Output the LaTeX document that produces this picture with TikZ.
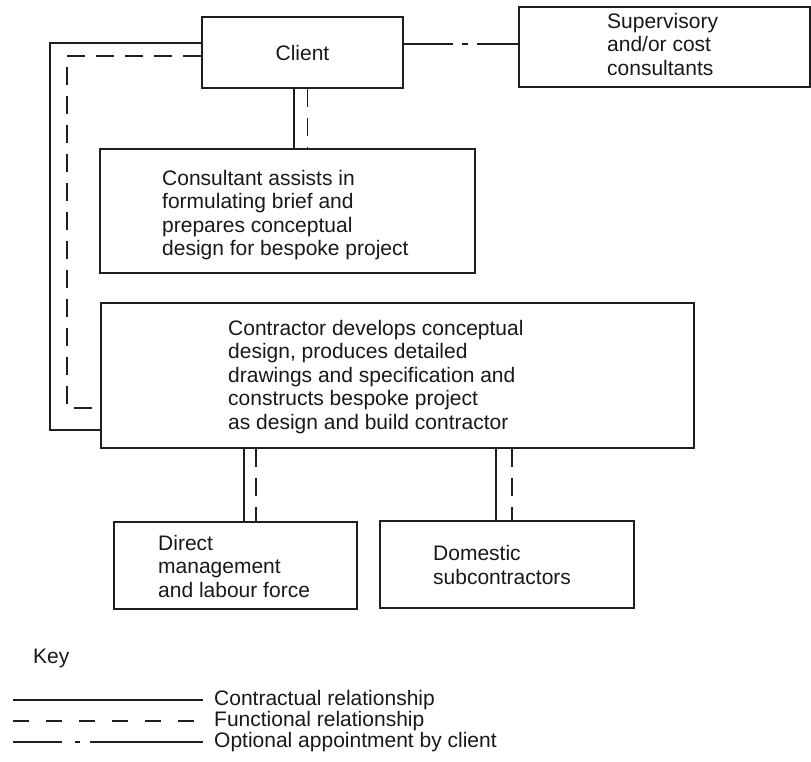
\documentclass[tikz,border=0pt]{standalone}
\usepackage{fontspec}
\setmainfont{Liberation Sans}
\begin{document}
\begin{tikzpicture}[x=1pt,y=-1pt,
  ink/.style={draw=black!88, line width=1.3pt},
  box/.style={ink, rectangle, inner sep=0pt},
  label/.style={inner sep=0pt, align=left, text=black!90,
    font=\fontsize{21}{23.5}\selectfont},
  contract/.style={ink},
  functional/.style={ink, dash pattern=on 18pt off 11pt},
  optional/.style={ink, dash pattern=on 49pt off 9pt on 6pt off 9pt on 200pt}]

\useasboundingbox[fill=white] (0,0) rectangle (811,762);

% boxes
\node[box, minimum width=201pt, minimum height=71pt, label] (client) at (302.5,52.5) {Client};
\node[box, minimum width=291pt, minimum height=80pt] (sup) at (664.5,47) {};
\node[label, anchor=west] (suptext) at (607,44) {Supervisory\\and/or cost\\consultants};
\node[box, minimum width=375pt, minimum height=124pt] (consult) at (287.5,211) {};
\node[label, anchor=west] (consulttext) at (162,215) {Consultant assists in\\formulating brief and\\prepares conceptual\\design for bespoke project};
\node[box, minimum width=593pt, minimum height=145pt] (contr) at (397.5,375.5) {};
\node[label, anchor=west] (contrtext) at (228,377) {Contractor develops conceptual\\design, produces detailed\\drawings and specification and\\constructs bespoke project\\as design and build contractor};
\node[box, minimum width=243pt, minimum height=87pt] (direct) at (235.5,565.5) {};
\node[label, anchor=west] (directtext) at (158,566) {Direct\\management\\and labour force};
\node[box, minimum width=254pt, minimum height=87pt] (domestic) at (507,564.5) {};
\node[label, anchor=west] (domtext) at (433,565) {Domestic\\subcontractors};

% routing points
\coordinate (cs) at (294,0);
\coordinate (cf) at (307.5,0);
\coordinate (ds) at (244,0);
\coordinate (df) at (256,0);
\coordinate (ss) at (496,0);
\coordinate (sf) at (512,0);
\coordinate (loopSx) at (50,0);
\coordinate (loopSy1) at (0,43);
\coordinate (loopSy2) at (0,430);
\coordinate (loopFx) at (67,0);
\coordinate (loopFy1) at (0,56);
\coordinate (loopFy2) at (0,408);
\coordinate (opty) at (0,44);

% client to consultant
\draw[contract] (client.south -| cs) -- (consult.north -| cs);
\draw[functional] (client.south -| cf) -- (consult.north -| cf);

% client to contractor, round the left side
\draw[contract] (client.west |- loopSy1) -| (loopSx |- loopSy2) -- (contr.west |- loopSy2);
\draw[functional] (client.west |- loopFy1) -| (loopFx |- loopFy2) -- (contr.west |- loopFy2);

% optional appointment
\draw[optional] (client.east |- opty) -- (sup.west |- opty);

% contractor to its own resources
\draw[contract] (contr.south -| ds) -- (direct.north -| ds);
\draw[functional] (contr.south -| df) -- (direct.north -| df);
\draw[contract] (contr.south -| ss) -- (domestic.north -| ss);
\draw[functional] (contr.south -| sf) -- (domestic.north -| sf);

% key
\node[label, anchor=west] (key) at (33,658) {Key};
\coordinate (k1) at (13,700);
\coordinate (k2) at (13,721);
\coordinate (k3) at (13,742);
\node[label, anchor=west, inner xsep=11pt] (kt1) at (203,700) {Contractual relationship};
\node[label, anchor=west, inner xsep=11pt] (kt2) at (203,721) {Functional relationship};
\node[label, anchor=west, inner xsep=11pt] (kt3) at (203,742) {Optional appointment by client};
\draw[contract] (k1) -- (kt1.west);
\draw[ink, dash pattern=on 16pt off 17pt] (k2) -- (kt2.west);
\draw[ink, dash pattern=on 49pt off 13pt on 5pt off 10pt on 200pt] (k3) -- (kt3.west);
\end{tikzpicture}
\end{document}
